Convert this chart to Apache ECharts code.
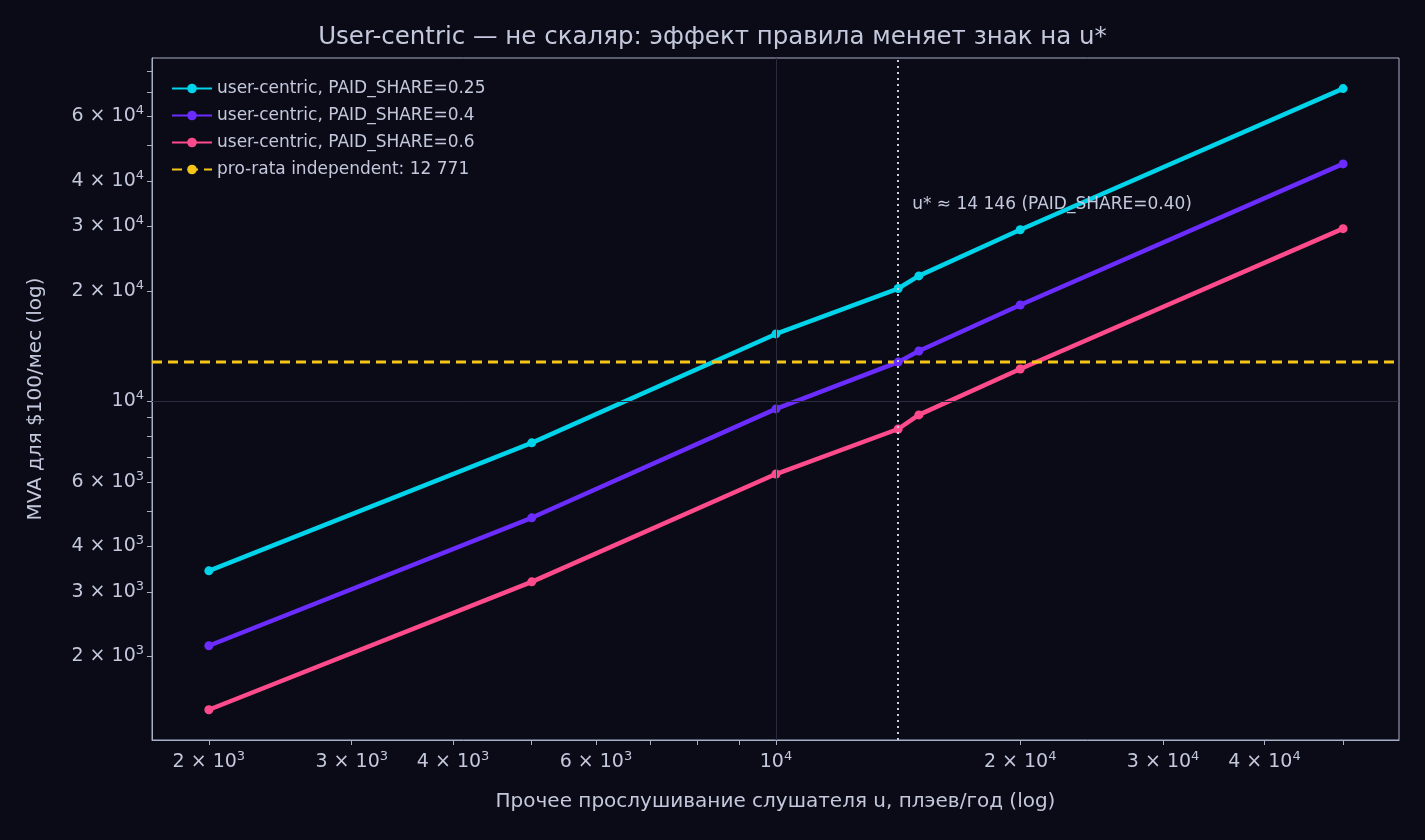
<!DOCTYPE html>
<html><head><meta charset="utf-8">
<script src="https://cdn.jsdelivr.net/npm/echarts@6/dist/echarts.min.js"></script>
<style>html,body{margin:0;background:#0b0b17}#c{width:1425px;height:840px}</style>
</head><body><div id="c"></div>
<script>
const uValues = [2000, 5000, 10000, 14146, 15000, 20000, 50000];
const share025 = [3430, 7680, 15250, 20300, 21980, 29400, 71500];
const share040 = [2140, 4790, 9510, 12771, 13700, 18300, 44500];
const share060 = [1430, 3200, 6310, 8380, 9160, 12230, 29600];
const proRata = 12771;
const uStar = 14146;
const xLabelValues = [2000, 3000, 4000, 6000, 10000, 20000, 30000, 40000];
const yLabelValues = [2000, 3000, 4000, 6000, 10000, 20000, 30000, 40000, 60000];
const xMin = 1702, xMax = 58600, yMin = 1182, yMax = 86700;

const txt = '#c3c8dc';
function ticksBetween(a, b) {
  const out = [];
  for (let e = 3; e <= 5; e++) for (let m = 1; m <= 9; m++) { const v = m * Math.pow(10, e); if (v >= a && v <= b) out.push(v); }
  return out;
}
function fmt(v) {
  const e = Math.floor(Math.log10(v) + 1e-9);
  const m = Math.round(v / Math.pow(10, e));
  return m === 1 ? '10{s|' + e + '}' : m + ' × 10{s|' + e + '}';
}
const rich = { s: { fontSize: 13, color: txt, padding: [0, 0, 11, 0], fontFamily: 'DejaVu Sans' } };
const mk = (name, data, color) => ({
  name, type: 'line', data: uValues.map((u, i) => [u, data[i]]),
  symbol: 'circle', symbolSize: 9, lineStyle: { width: 4.5, color }, itemStyle: { color }
});
const chart = echarts.init(document.getElementById('c'));
chart.setOption({
  backgroundColor: '#0b0b17',
  animation: false,
  textStyle: { fontFamily: 'DejaVu Sans' },
  title: { text: 'User-centric — не скаляр: эффект правила меняет знак на u*', left: 'center', top: 20,
    textStyle: { color: txt, fontSize: 24.5, fontWeight: 'normal', fontFamily: 'DejaVu Sans' } },
  legend: { orient: 'vertical', left: 166, top: 75, itemGap: 10, itemWidth: 40, itemHeight: 12,
    textStyle: { color: txt, fontSize: 17 },
    data: ['user-centric, PAID_SHARE=0.25', 'user-centric, PAID_SHARE=0.4', 'user-centric, PAID_SHARE=0.6', 'pro-rata independent: 12 771'] },
  grid: { left: 152, right: 26, top: 58, bottom: 100, show: true, borderColor: '#a8b0c8', borderWidth: 1 },
  xAxis: { type: 'log', logBase: 10, min: xMin, max: xMax,
    name: 'Прочее прослушивание слушателя u, плэев/год (log)', nameLocation: 'middle', nameGap: 52,
    nameTextStyle: { color: txt, fontSize: 20 },
    axisLine: { show: true, lineStyle: { color: '#a8b0c8' } },
    axisTick: { show: true, customValues: ticksBetween(xMin, xMax), length: 5, lineStyle: { color: '#a8b0c8' } },
    axisLabel: { customValues: xLabelValues, formatter: fmt, rich, color: txt, fontSize: 19, margin: 10 },
    splitLine: { show: false } },
  yAxis: { type: 'log', logBase: 10, min: yMin, max: yMax,
    name: 'MVA для $100/мес (log)', nameLocation: 'middle', nameGap: 106,
    nameTextStyle: { color: txt, fontSize: 20 },
    axisLine: { show: true, lineStyle: { color: '#a8b0c8' } },
    axisTick: { show: true, customValues: ticksBetween(yMin, yMax), length: 5, lineStyle: { color: '#a8b0c8' } },
    axisLabel: { customValues: yLabelValues, formatter: fmt, rich, color: txt, fontSize: 19, margin: 8 },
    splitLine: { show: false } },
  series: [
    Object.assign(mk('user-centric, PAID_SHARE=0.25', share025, '#00d4ea'), {
      markLine: { silent: true, symbol: 'none', label: { show: false },
        lineStyle: { color: '#2a2c3e', width: 1, type: 'solid' },
        data: [{ xAxis: 10000 }, { yAxis: 10000 }] } }),
    mk('user-centric, PAID_SHARE=0.4', share040, '#6b2cff'),
    mk('user-centric, PAID_SHARE=0.6', share060, '#ff4b8b'),
    { name: 'pro-rata independent: 12 771', type: 'line', data: [[xMin, proRata], [xMax, proRata]],
      showSymbol: false, symbol: 'none', lineStyle: { color: '#f5c518', width: 3, type: [10, 6] }, itemStyle: { color: '#f5c518' },
      markLine: { silent: true, symbol: 'none', label: { show: false },
        lineStyle: { color: '#c8cde0', width: 2, type: [2, 4] }, data: [{ xAxis: uStar }] },
      markPoint: { symbolSize: 0, data: [{ coord: [uStar, 34400], symbol: 'circle',
        label: { show: true, position: 'right', distance: 14, formatter: 'u* ≈ 14 146 (PAID_SHARE=0.40)', color: txt, fontSize: 17 } }] } }
  ]
});
</script></body></html>
